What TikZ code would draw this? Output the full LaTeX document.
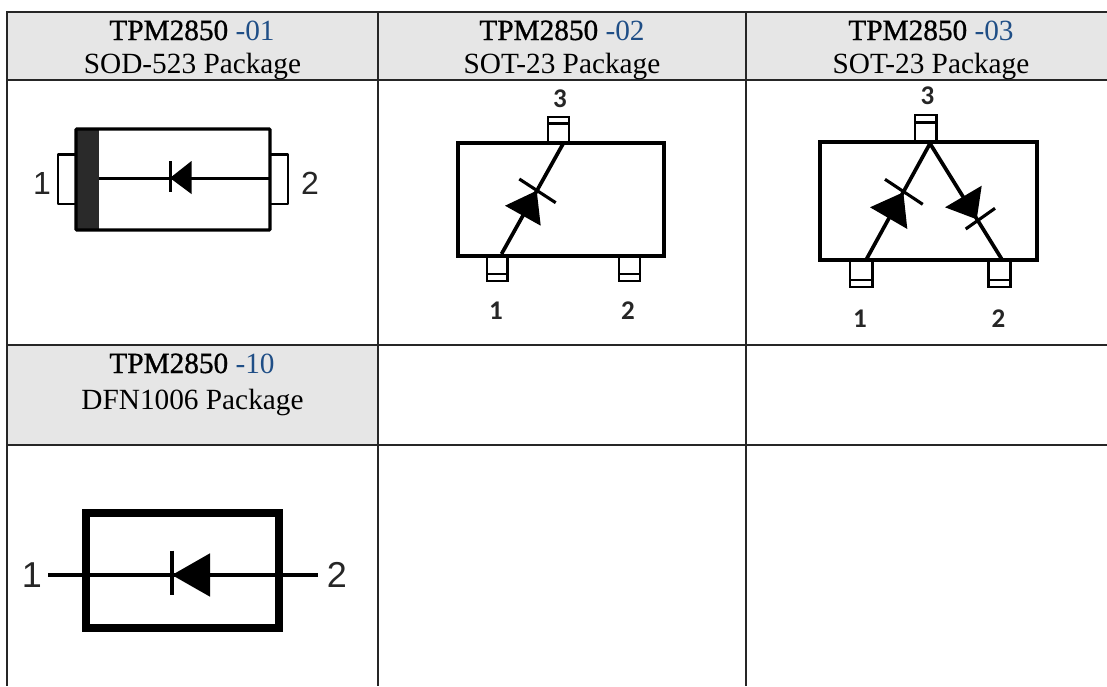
\documentclass[tikz,border=0pt]{standalone}
\usepackage{fontspec}
\setmainfont{Liberation Serif}
\newfontfamily\headbold{Liberation Serif}[FakeBold=1]
\newfontfamily\labsans{Liberation Sans}
\newfontfamily\labbold{Carlito}[BoldFont=Carlito Bold]
\definecolor{headgrey}{HTML}{E6E6E6}
\definecolor{partblue}{HTML}{1F4E86}
\definecolor{bandgrey}{HTML}{2A2A2A}
\tikzset{
  grid line/.style={draw=black!85,line width=1.3pt},
  head/.style={anchor=base,inner sep=0pt,font=\fontsize{29.3}{29.3}\selectfont},
  pin sans/.style={inner sep=0pt,font=\labsans\fontsize{32}{32}\selectfont,text=black!85},
  pin bold/.style={inner sep=0pt,font=\labbold\bfseries\fontsize{27}{27}\selectfont,text=black!85},
  thin wire/.style={line width=2.7pt},
  body/.style={line width=4pt,line join=miter},
  tab/.style={line width=2.9pt},
  arm/.style={line width=3.7pt},
  cross bar/.style={line width=3.1pt},
}
\newcommand{\parttext}[2]{{\headbold #1} \textcolor{partblue}{#2}}
\begin{document}
\begin{tikzpicture}[x=1pt,y=-1pt]
\useasboundingbox (0,0) rectangle (1107,686);
% header fills
\fill[headgrey] (7,12) rectangle (1107,80);
\fill[headgrey] (7,345) rectangle (378,445);
% grid
\draw[grid line] (1107,12) -- (7,12) -- (7,686);
\draw[grid line] (378,12) -- (378,686);
\draw[grid line] (746,12) -- (746,686);
\draw[grid line] (7,80) -- (1107,80);
\draw[grid line] (7,345) -- (1107,345);
\draw[grid line] (7,445) -- (1107,445);
% header text
\node[head] (h1a) at (192,40) {\parttext{TPM2850}{-01}};
\node[head] (h1b) at (192.5,73.5) {SOD-523 Package};
\node[head] (h2a) at (562,40) {\parttext{TPM2850}{-02}};
\node[head] (h2b) at (562,73.5) {SOT-23 Package};
\node[head] (h3a) at (931,40) {\parttext{TPM2850}{-03}};
\node[head] (h3b) at (931,73.5) {SOT-23 Package};
\node[head] (h4a) at (192,373) {\parttext{TPM2850}{-10}};
\node[head] (h4b) at (192.5,409) {DFN1006 Package};
% --- SOD-523
\draw[tab,line join=round] (76,154.5) -- (58,154.5) -- (58,204) -- (76,204);
\draw[tab,line join=round] (270,154.5) -- (288,154.5) -- (288,204) -- (270,204);
\fill[bandgrey] (76,128) rectangle (99,231);
\draw[line width=3.2pt,rounded corners=0.8pt] (76,129) rectangle (270,230);
\draw[thin wire] (99,178.5) -- (270,178.5);
\fill (191.5,161) -- (191.5,194) -- (170,178) -- cycle;
\draw[line width=3.2pt] (170.5,161) -- (170.5,192);
\node[pin sans] (a1) at (42,183) {1};
\node[pin sans] (a2) at (310,183) {2};
% --- SOT-23 single
\foreach \xa/\xb/\ya/\yb/\ym in {548/569/143/117/123.5, 487/507.5/255/281/274, 619/640/255/281/274}{
  \draw[tab] (\xa,\ya) -- (\xa,\yb) -- (\xb,\yb) -- (\xb,\ya);
  \draw[tab] (\xa,\ym) -- (\xb,\ym);
}
\draw[body] (457.5,143) rectangle (663.5,255.5);
\draw[arm] (501.5,254) -- (563.5,143);
\fill (505,205.7) -- (540.7,225.7) -- (536.7,190.7) -- cycle;
\draw[cross bar] (519.3,179) -- (555.7,202.7);
\node[pin bold] (b3) at (560,98.5) {3};
\node[pin bold] (b1) at (496,311) {1};
\node[pin bold] (b2) at (628,311) {2};
% --- SOT-23 double
\foreach \xa/\xb/\ya/\yb/\ym in {915/936.7/142/115/122.3, 850/872.3/260/287/280, 988.7/1010.7/260/287/280}{
  \draw[tab] (\xa,\ya) -- (\xa,\yb) -- (\xb,\yb) -- (\xb,\ya);
  \draw[tab] (\xa,\ym) -- (\xb,\ym);
}
\draw[body] (820,142) rectangle (1036.7,260.3);
\draw[arm,line join=bevel] (866,260) -- (930,143.5) -- (1002.3,260);
\fill (870,207.3) -- (907.3,229) -- (903.3,192.3) -- cycle;
\draw[cross bar] (885,179.3) -- (922.7,204.3);
\fill (945,207.3) -- (981.7,185.7) -- (976.7,219.3) -- cycle;
\draw[cross bar] (965.7,229) -- (995,208.3);
\node[pin bold] (c3) at (927.5,95.5) {3};
\node[pin bold] (c1) at (860,318.5) {1};
\node[pin bold] (c2) at (998.5,318.5) {2};
% --- DFN1006
\draw[line width=8pt] (86.3,512.7) rectangle (279.3,628.3);
\draw[line width=3.3pt] (48,575) -- (317.7,575);
\fill (172,575) -- (210,553.3) -- (210,596.7) -- cycle;
\draw[line width=3.4pt] (172,550.7) -- (172,595);
\node[pin sans] (d1) at (32,575) {\fontsize{36}{36}\selectfont 1};
\node[pin sans] (d2) at (337,575) {\fontsize{36}{36}\selectfont 2};
\end{tikzpicture}
\end{document}
